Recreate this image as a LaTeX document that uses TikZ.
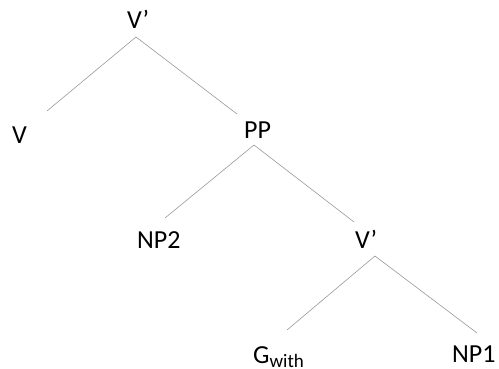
\documentclass[tikz,border=0pt]{standalone}
\usepackage{fontspec}
\setmainfont{Carlito}
\begin{document}
\begin{tikzpicture}[
        x=1pt,
        y=-1pt,
        % styles
        label/.style={anchor=base west,inner sep=0pt,font=\fontsize{26}{30}\selectfont},
        branch/.style={gray!80,line width=0.6pt},
    ]
    \useasboundingbox (0,0) rectangle (499,369);

    % labels
    \node[label] (topv) at (127,29) {V’};
    \node[label] (v)    at (12,143) {V};
    \node[label] (pp)   at (244,139) {PP};
    \node[label] (np2)  at (137,248) {NP2};
    \node[label] (midv) at (355,248) {V’};
    \node[label] (g)    at (253,363) {G\raisebox{-4pt}{\fontsize{19}{22}\selectfont with}};
    \node[label] (np1)  at (452,362) {NP1};

    % branch ends
    \coordinate (topv-a) at (136,37);
    \coordinate (topv-l) at (47,111);
    \coordinate (topv-r) at (237,114);
    \coordinate (pp-a)   at (254,145);
    \coordinate (pp-l)   at (165,218);
    \coordinate (pp-r)   at (354,222);
    \coordinate (midv-a) at (375,256);
    \coordinate (midv-l) at (287,330);
    \coordinate (midv-r) at (477,333);

    % branches
    \draw[branch] (topv-l) -- (topv-a) -- (topv-r);
    \draw[branch] (pp-l) -- (pp-a) -- (pp-r);
    \draw[branch] (midv-l) -- (midv-a) -- (midv-r);
\end{tikzpicture}
\end{document}
